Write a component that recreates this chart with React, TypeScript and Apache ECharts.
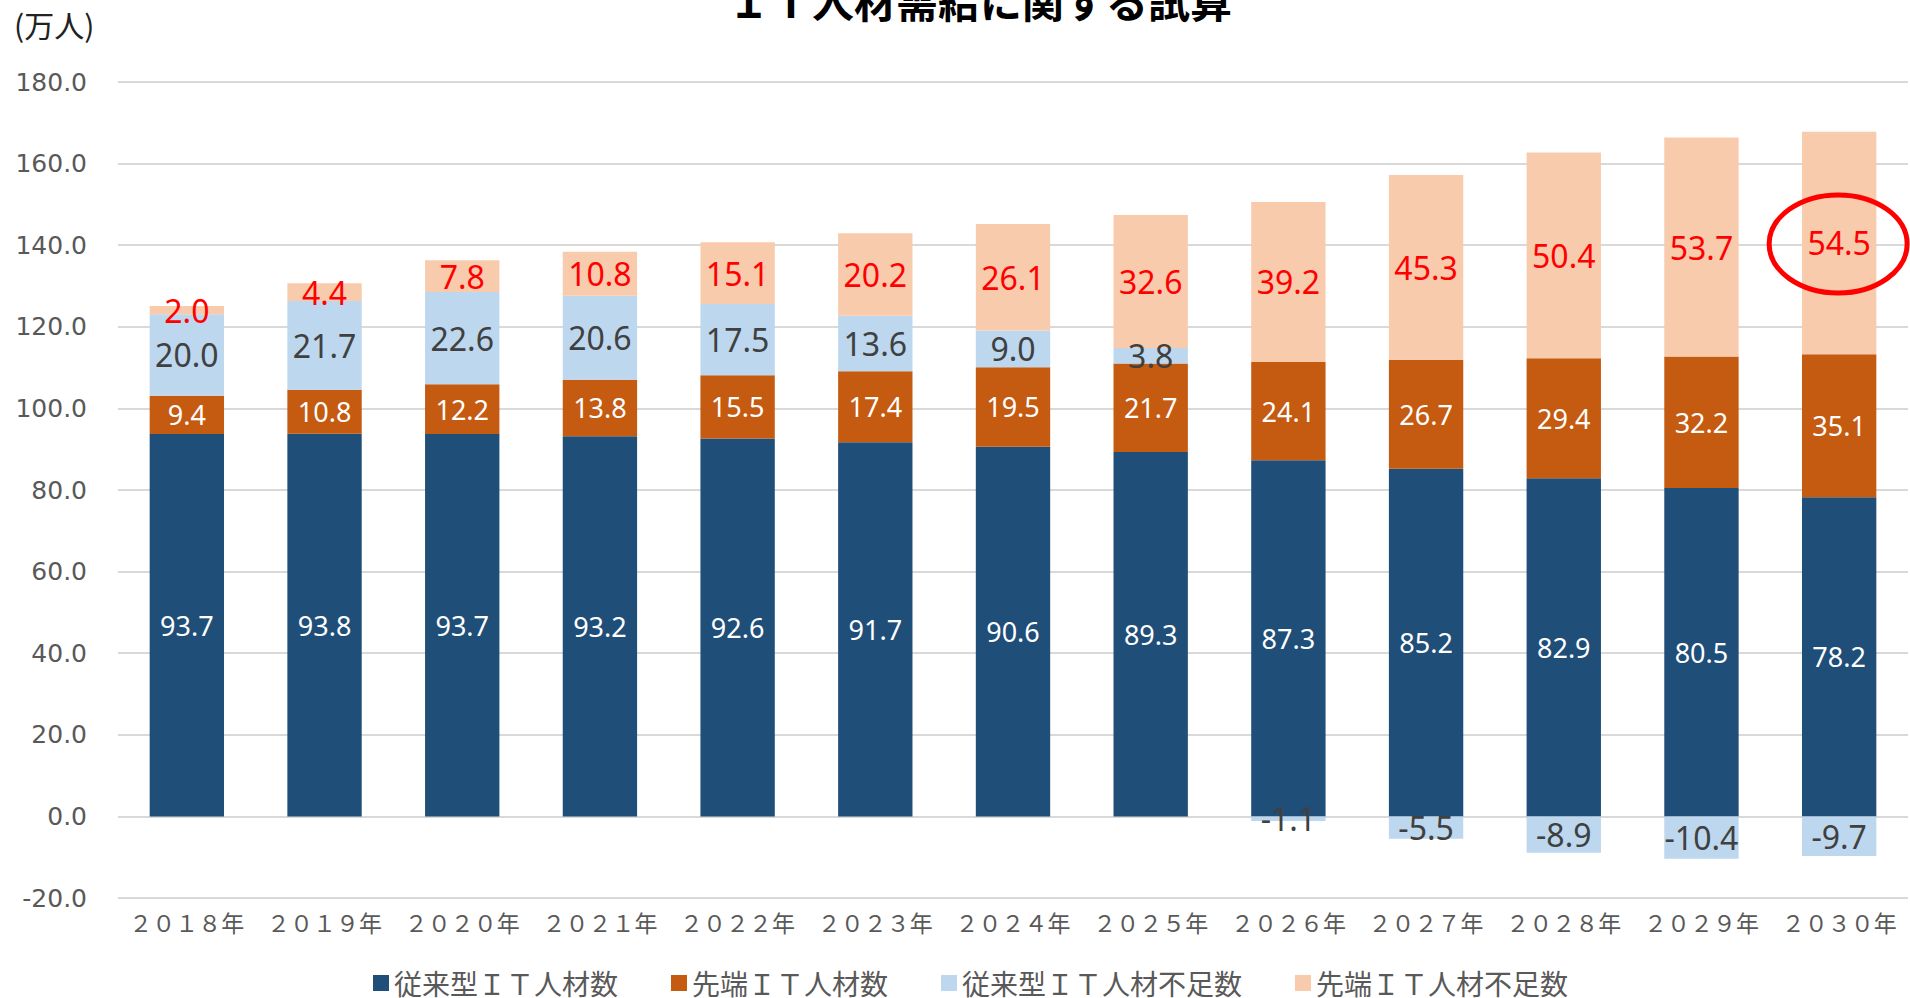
import React, { useEffect, useRef } from "react";
import * as echarts from "echarts";

const categories = [
  "２０１８年", "２０１９年", "２０２０年", "２０２１年", "２０２２年", "２０２３年", "２０２４年",
  "２０２５年", "２０２６年", "２０２７年", "２０２８年", "２０２９年", "２０３０年",
];
const conventionalIT = [93.7, 93.8, 93.7, 93.2, 92.6, 91.7, 90.6, 89.3, 87.3, 85.2, 82.9, 80.5, 78.2];
const advancedIT = [9.4, 10.8, 12.2, 13.8, 15.5, 17.4, 19.5, 21.7, 24.1, 26.7, 29.4, 32.2, 35.1];
const conventionalShortage = [20.0, 21.7, 22.6, 20.6, 17.5, 13.6, 9.0, 3.8, -1.1, -5.5, -8.9, -10.4, -9.7];
const advancedShortage = [2.0, 4.4, 7.8, 10.8, 15.1, 20.2, 26.1, 32.6, 39.2, 45.3, 50.4, 53.7, 54.5];
const seriesNames = ["従来型ＩＴ人材数", "先端ＩＴ人材数", "従来型ＩＴ人材不足数", "先端ＩＴ人材不足数"];
const yTicks = { min: -20, max: 180, interval: 20 };
const title = "ＩＴ人材需給に関する試算";
const unitLabel = "(万人)";
const highlightIndex = categories.length - 1;

const CJK = '"Noto Sans CJK JP", "Noto Sans", sans-serif';
const NUM = '"Noto Sans", sans-serif';

export default function App() {
  const ref = useRef<HTMLDivElement>(null);
  useEffect(() => {
    if (!ref.current) return;
    const chart = echarts.init(ref.current, null, { renderer: "svg" });
    const fmt = (p: any) => Number(p.value).toFixed(1);
    const mk = (name: string, data: number[], color: string, labelColor: string, size: number) => ({
      name,
      type: "bar",
      stack: "total",
      data,
      barWidth: "54%",
      itemStyle: { color },
      label: {
        show: true,
        position: "inside",
        formatter: fmt,
        color: labelColor,
        fontSize: size,
        fontFamily: NUM,
      },
    });
    chart.setOption({
      animation: false,
      grid: { left: 118, right: 2, top: 82, bottom: 100, containLabel: false },
      legend: {
        left: 368,
        top: 963,
        itemWidth: 16,
        itemHeight: 16,
        itemGap: 53,
        icon: "rect",
        textStyle: { fontSize: 28, color: "#595959", fontFamily: CJK, lineHeight: 30 },
        data: seriesNames,
      },
      xAxis: {
        type: "category",
        data: categories,
        axisLine: { show: false },
        axisTick: { show: false },
        axisLabel: { interval: 0, margin: 12, fontSize: 23, color: "#595959", fontFamily: CJK },
      },
      yAxis: {
        type: "value",
        min: yTicks.min,
        max: yTicks.max,
        interval: yTicks.interval,
        axisLine: { show: false },
        axisTick: { show: false },
        splitLine: { lineStyle: { color: "#D9D9D9", width: 2 } },
        axisLabel: {
          margin: 31,
          fontSize: 25,
          color: "#595959",
          fontFamily: '"DejaVu Sans", sans-serif',
          formatter: (v: number) => v.toFixed(1),
        },
      },
      series: [
        mk(seriesNames[0], conventionalIT, "#1F4E79", "#FFFFFF", 27),
        mk(seriesNames[1], advancedIT, "#C55A11", "#FFFFFF", 27),
        mk(seriesNames[2], conventionalShortage, "#BDD7EE", "#404040", 32),
        mk(seriesNames[3], advancedShortage, "#F8CBAD", "#FF0000", 32),
      ],
    });
    const i = highlightIndex;
    const mid = conventionalIT[i] + advancedIT[i] + advancedShortage[i] / 2;
    const p = chart.convertToPixel({ gridIndex: 0 }, [i, mid]) as number[];
    chart.setOption({
      graphic: [
        {
          type: "text",
          x: 980,
          y: -1,
          style: {
            text: title,
            fontSize: 42,
            fontWeight: "bold",
            fill: "#000",
            fontFamily: CJK,
            align: "center",
            verticalAlign: "middle",
          },
        },
        {
          type: "text",
          x: 14,
          y: 24,
          style: {
            text: unitLabel,
            fontSize: 30,
            fill: "#222",
            fontFamily: CJK,
            verticalAlign: "middle",
          },
        },
        {
          type: "ellipse",
          shape: { cx: p[0] - 1, cy: p[1] + 1, rx: 69, ry: 49 },
          style: { fill: "none", stroke: "#FF0000", lineWidth: 5 },
          z: 100,
        },
      ],
    });
    return () => chart.dispose();
  }, []);
  return (
    <div
      ref={ref}
      style={{ position: "absolute", left: 0, top: 0, width: 1910, height: 998 }}
    />
  );
}
